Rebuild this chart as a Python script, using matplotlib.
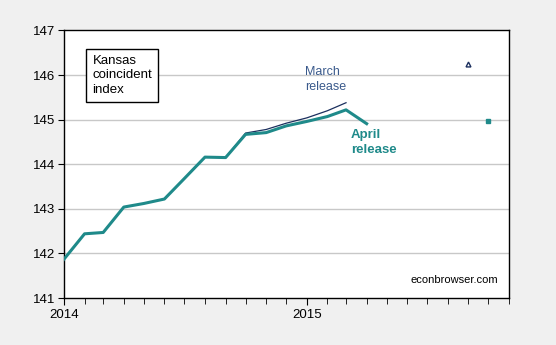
import matplotlib
matplotlib.use("Agg")
import matplotlib.pyplot as plt
import matplotlib.dates as mdates
import pandas as pd

plt.rcParams['font.family'] = ['Liberation Sans', 'DejaVu Sans']

# Data
april_dates = pd.date_range("2014-01-01", "2015-04-01", freq="MS")
april_values = [141.87, 142.44, 142.47, 143.04, 143.12, 143.22, 143.68, 144.16,
                144.15, 144.67, 144.71, 144.86, 144.96, 145.07, 145.22, 144.91]
march_dates = pd.date_range("2014-01-01", "2015-03-01", freq="MS")
march_values = [141.87, 142.44, 142.47, 143.04, 143.12, 143.22, 143.68, 144.16,
                144.15, 144.70, 144.78, 144.92, 145.04, 145.20, 145.38]
march_marker_date = [pd.Timestamp("2015-09-01")]
march_marker_value = [146.24]
april_marker_date = [pd.Timestamp("2015-10-01")]
april_marker_value = [144.98]

y_ticks = [141, 142, 143, 144, 145, 146, 147]

navy = "#1b2f5e"
teal = "#1f8a8a"

fig = plt.figure(figsize=(5.56, 3.45), dpi=100)
fig.patch.set_facecolor("#f0f0f0")
ax = fig.add_axes([0.115, 0.1362, 0.8005, 0.7754])
ax.set_facecolor("white")

for y in y_ticks[1:-1]:
    ax.axhline(y, color="#c8c8c8", lw=1.0, zorder=0)

ax.plot(march_dates, march_values, color=navy, lw=0.9, zorder=2)
ax.plot(april_dates, april_values, color=teal, lw=2.2, zorder=3)
ax.plot(march_marker_date, march_marker_value, marker="^", ms=3.5, mfc="white",
        mec=navy, mew=1.0, ls="none")
ax.plot(april_marker_date, april_marker_value, marker="s", ms=3.5, mfc=teal,
        mec=teal, ls="none")

ax.set_ylim(141, 147)
ax.set_yticks(y_ticks)
ax.set_xlim(pd.Timestamp("2014-01-01"), pd.Timestamp("2015-11-01"))
ax.xaxis.set_major_locator(mdates.YearLocator())
ax.xaxis.set_major_formatter(mdates.DateFormatter("%Y"))
ax.xaxis.set_minor_locator(mdates.MonthLocator())
ax.tick_params(axis="x", which="major", length=5, labelsize=9.5, pad=3)
ax.tick_params(axis="x", which="minor", length=4)
ax.tick_params(axis="y", length=4, labelsize=9.5, pad=2)

for s in ax.spines.values():
    s.set_linewidth(1.0)
    s.set_color("black")

ax.text(0.064, 0.91, "Kansas\ncoincident\nindex", transform=ax.transAxes,
        fontsize=9.5, va="top", ha="left", linespacing=1.3,
        bbox=dict(boxstyle="square,pad=0.45", fc="white", ec="black", lw=1.0))
ax.text(pd.Timestamp("2014-12-29"), 145.6, "March\nrelease", color="#3a5a8c",
        fontsize=9, va="bottom", ha="left", linespacing=1.3)
ax.text(pd.Timestamp("2015-03-08"), 144.78, "April\nrelease", color=teal,
        fontsize=9.5, fontweight="bold", va="top", ha="left", linespacing=1.3)
ax.text(0.975, 0.05, "econbrowser.com", transform=ax.transAxes,
        fontsize=8, ha="right", va="bottom")

fig.savefig("out.png", dpi=100, facecolor=fig.get_facecolor())
